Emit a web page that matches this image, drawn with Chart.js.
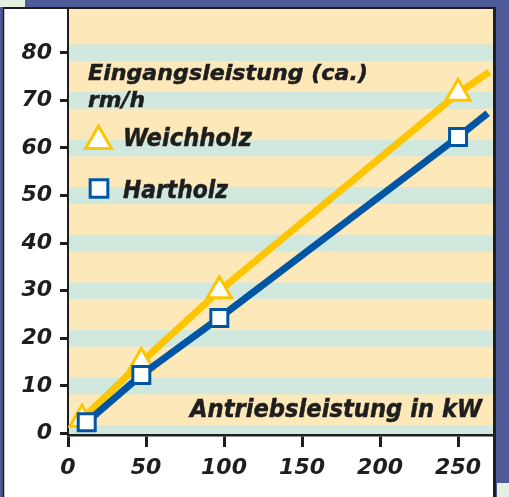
<!DOCTYPE html>
<html>
<head>
<meta charset="utf-8">
<script src="https://cdn.jsdelivr.net/npm/chart.js@4/dist/chart.umd.min.js"></script>
<style>
  html, body { margin: 0; padding: 0; background: #4f5a98; }
  canvas { display: block; }
</style>
</head>
<body>
<canvas id="chart" width="509" height="497"></canvas>
<script>
const xTicks = [0, 50, 100, 150, 200, 250];
const yTicks = [0, 10, 20, 30, 40, 50, 60, 70, 80];
const weichX = [9, 47, 97, 250];
const weichY = [3, 15, 30, 71.5];
const weichEnd = [270, 76];
const hartX = [12, 47, 97, 250];
const hartY = [2.4, 12.3, 24.3, 62.3];
const hartEnd = [269, 67.3];
const seriesNames = ['Weichholz', 'Hartholz'];
const yTitle = ['Eingangsleistung (ca.)', 'rm/h'];
const xTitle = 'Antriebsleistung in kW';

const YELLOW = '#fec600';
const BLUE = '#0055a5';
const INK = '#1e1e1e';
const FONT = 'DejaVu Sans';

const toPoints = (xs, ys, end) =>
  xs.map((x, i) => ({ x, y: ys[i] })).concat([{ x: end[0], y: end[1] }]);
const radii = (xs, r) => xs.map(() => r).concat([0]);

// draw heavy text squeezed/stretched to a given width
function fitText(ctx, text, x, y, w) {
  const m = ctx.measureText(text).width;
  ctx.save();
  ctx.translate(x, y);
  ctx.scale(w / m, 1);
  ctx.fillText(text, 0, 0);
  ctx.strokeText(text, 0, 0);
  ctx.restore();
}

const framePlugin = {
  id: 'frame',
  beforeDraw(chart) {
    const { ctx, chartArea: a, scales } = chart;
    ctx.save();
    ctx.fillStyle = '#4f5a98';
    ctx.fillRect(0, 0, chart.width, chart.height);
    ctx.fillStyle = '#e4f1e0';
    ctx.fillRect(0, 0, 25, 7);
    ctx.fillRect(497, 483, 12, 14);

    ctx.fillStyle = '#ffffff';
    ctx.fillRect(3, 8, 491, 489);
    ctx.strokeStyle = INK;
    ctx.lineWidth = 1.5;
    ctx.beginPath();
    ctx.moveTo(3.5, 497); ctx.lineTo(3.5, 8);
    ctx.stroke();
    ctx.lineWidth = 2;
    ctx.beginPath();
    ctx.moveTo(3, 8); ctx.lineTo(496, 8);
    ctx.stroke();
    ctx.lineWidth = 3;
    ctx.beginPath();
    ctx.moveTo(494.5, 7); ctx.lineTo(494.5, 497);
    ctx.stroke();

    ctx.fillStyle = '#fde8b9';
    ctx.fillRect(a.left, a.top, a.right - a.left, a.bottom - a.top);
    ctx.beginPath();
    ctx.rect(a.left, a.top, a.right - a.left, a.bottom - a.top);
    ctx.clip();
    ctx.fillStyle = '#d0e8de';
    yTicks.forEach((v) => {
      const y1 = scales.y.getPixelForValue(v + 1.75);
      const y2 = scales.y.getPixelForValue(v - 1.75);
      ctx.fillRect(a.left, y1, a.right - a.left, y2 - y1);
    });
    ctx.restore();
  },
  afterDraw(chart) {
    const { ctx, chartArea: a } = chart;
    const H = Chart.helpers;
    ctx.save();
    ctx.fillStyle = INK;
    ctx.strokeStyle = INK;
    ctx.lineWidth = 0.5;
    ctx.textAlign = 'left';
    ctx.textBaseline = 'alphabetic';

    ctx.font = `italic bold 21px "${FONT}"`;
    fitText(ctx, yTitle[0], a.left + 20, 80, 280);
    fitText(ctx, yTitle[1], a.left + 20, 107, 57);

    ctx.font = `italic bold 24px "${FONT}"`;
    fitText(ctx, seriesNames[0], a.left + 55, 146, 129);
    fitText(ctx, seriesNames[1], a.left + 55, 198, 105);
    fitText(ctx, xTitle, a.right - 11 - 292, 417, 292);

    ctx.fillStyle = '#ffffff';
    ctx.lineWidth = 3;
    ctx.strokeStyle = YELLOW;
    H.drawPoint(ctx, { pointStyle: 'triangle', radius: 15, borderWidth: 3, rotation: 0 }, a.left + 30.5, 141);
    ctx.strokeStyle = BLUE;
    H.drawPoint(ctx, { pointStyle: 'rect', radius: 12.5, borderWidth: 3, rotation: 0 }, a.left + 31, 188.5);
    ctx.restore();
  },
};

const tickFont = { family: FONT, size: 22, weight: 'bold', style: 'italic' };

new Chart(document.getElementById('chart'), {
  type: 'line',
  data: {
    datasets: [
      {
        label: seriesNames[0],
        data: toPoints(weichX, weichY, weichEnd),
        borderColor: YELLOW,
        borderWidth: 7,
        pointStyle: 'triangle',
        pointRadius: radii(weichX, 14),
        pointBackgroundColor: '#ffffff',
        pointBorderColor: YELLOW,
        pointBorderWidth: 3,
        order: 2,
      },
      {
        label: seriesNames[1],
        data: toPoints(hartX, hartY, hartEnd),
        borderColor: BLUE,
        borderWidth: 7,
        pointStyle: 'rect',
        pointRadius: radii(hartX, 12),
        pointBackgroundColor: '#ffffff',
        pointBorderColor: BLUE,
        pointBorderWidth: 3,
        order: 1,
      },
    ],
  },
  options: {
    responsive: false,
    animation: false,
    layout: { autoPadding: false, padding: { left: 0, top: 9, right: 16, bottom: 0 } },
    scales: {
      x: {
        type: 'linear',
        min: 0,
        max: 272.4,
        afterBuildTicks: (s) => { s.ticks = xTicks.map((v) => ({ value: v })); },
        afterFit: (s) => { s.height = 62; s.paddingLeft = 0; s.paddingRight = 0; },
        border: { display: true, color: INK, width: 2.5 },
        grid: { drawOnChartArea: false, tickLength: 12, tickWidth: 3, tickColor: INK },
        ticks: { font: tickFont, color: INK, padding: 8, maxRotation: 0, autoSkip: false },
      },
      y: {
        min: -0.3,
        max: 89.2,
        afterBuildTicks: (s) => { s.ticks = yTicks.map((v) => ({ value: v })); },
        afterFit: (s) => { s.width = 68; s.paddingTop = 0; s.paddingBottom = 0; },
        border: { display: true, color: INK, width: 2 },
        grid: { drawOnChartArea: false, tickLength: 8, tickWidth: 3, tickColor: INK },
        ticks: { font: tickFont, color: INK, padding: 8, autoSkip: false },
      },
    },
    plugins: {
      legend: { display: false },
      tooltip: { enabled: false },
    },
  },
  plugins: [framePlugin],
});
</script>
</body>
</html>
